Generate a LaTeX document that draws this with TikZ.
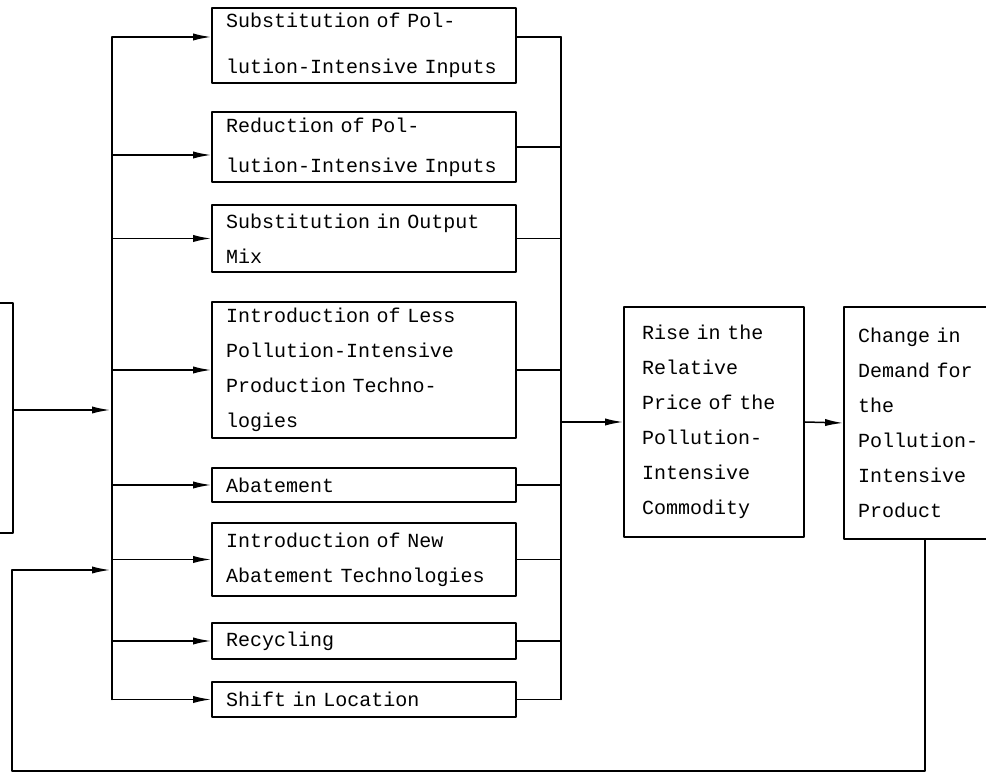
\documentclass[tikz,border=0pt]{standalone}
\usepackage{fontspec}
\setmonofont{Liberation Mono}
\usetikzlibrary{positioning,arrows.meta}

\begin{document}
\begin{tikzpicture}[
				x=0.5pt, y=-0.5pt,
				font=\ttfamily\fontsize{10}{17.5}\selectfont,
				>={Latex[length=9pt,width=3.6pt]},
				line cap=round,
				line join=round,
				line width=0.75pt
				]
				% Style node
				\tikzset{
					mbox/.style={rectangle, draw, line width=0.9pt, align=left,
						text width=138pt, inner xsep=7pt, inner ysep=0pt},
					rbox/.style={rectangle, draw, line width=0.9pt, align=left,
						text width=72pt, inner xsep=9pt, inner ysep=0pt, minimum height=115pt},
					cbox/.style={rbox, inner xsep=7pt, minimum height=116pt}
				}
				
				\clip (0,0) rectangle (986,774);
				
				% ===== Node positions =====
				\node[rectangle, draw, line width=0.9pt, minimum width=50pt, minimum height=115pt] (src) at (-37,418) {};
				
				\node[mbox, minimum height=37.5pt] (s1) at (364,45.5) {Substitution of Pol-\\[5.5pt]lution-Intensive Inputs};
				\node[mbox, minimum height=35pt]   (s2) at (364,147)  {Reduction of Pol-\\[2.5pt]lution-Intensive Inputs};
				\node[mbox, minimum height=33.5pt] (s3) at (364,238.5) {Substitution in Output\\Mix};
				\node[mbox, minimum height=68pt]   (s4) at (364,370)  {Introduction of Less\\Pollution-Intensive\\Production Techno-\\logies};
				\node[mbox, minimum height=17pt]   (s5) at (364,485)  {Abatement};
				\node[mbox, minimum height=36.5pt] (s6) at (364,559.5) {Introduction of New\\Abatement Technologies};
				\node[mbox, minimum height=18pt]   (s7) at (364,641)  {Recycling};
				\node[mbox, minimum height=17.5pt] (s8) at (364,699.5) {Shift in Location};
				
				\node[rbox] (rise) at (714,422) {Rise in the\\Relative\\Price of the\\Pollution-\\Intensive\\Commodity};
				\node[cbox] (chg) at (930,423) {Change in\\Demand for\\the\\Pollution-\\Intensive\\Product};
				
				% ===== Buses =====
				\coordinate (lb) at (112,0);
				\coordinate (rb) at (561,0);
				\coordinate (s1in) at ([yshift=4.25pt]s1.west);
				\coordinate (s2in) at ([yshift=-4pt]s2.west);
				\coordinate (s1out) at ([yshift=4.25pt]s1.east);
				\coordinate (srcout) at ([yshift=4pt]src.east);
				
				\draw (lb |- s1in) -- (lb |- s8.west);
				\foreach \t in {s1in,s2in,s3.west,s4.west,s5.west,s6.west,s7.west,s8.west}
					\draw[->] (lb |- \t) -- (\t);
				
				\draw (rb |- s1out) -- (rb |- s8.east);
				\foreach \t in {s1out,s2.east,s3.east,s4.east,s5.east,s6.east,s7.east,s8.east}
					\draw (\t) -- (rb |- \t);
				
				% ===== Arrows =====
				\draw[->] (srcout) -- ([xshift=-1pt]lb |- srcout);
				\draw[->] (rb |- rise.west) -- (rise.west);
				\draw[->] (rise.east) -- (chg.west);
				
				% feedback
				\draw[->] ([xshift=-2.5pt]chg.south) |- (12,771) |- ([xshift=-1pt]lb |- 0,570);
				
			\end{tikzpicture}
\end{document}
